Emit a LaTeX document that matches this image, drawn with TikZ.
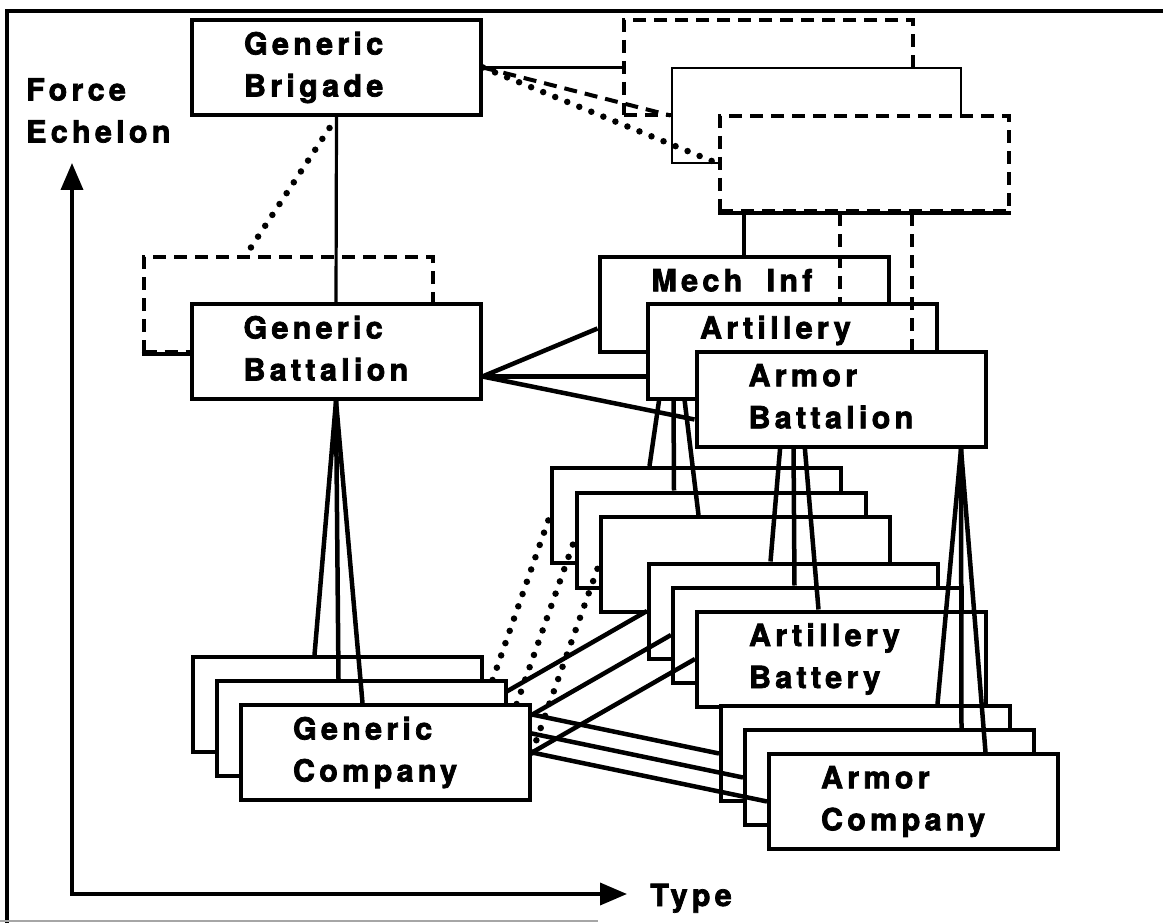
\documentclass[tikz,border=0pt]{standalone}
\usepackage{fontspec}
\setmainfont{TeX Gyre Heros}[LetterSpace=14,FakeBold=2.4]
\usepackage{tikz}
\usetikzlibrary{arrows.meta,positioning}
\pgfdeclarelayer{back}
\pgfdeclarelayer{mid}
\pgfsetlayers{back,mid,main}
\tikzset{>/.tip={Triangle[length=27pt,width=22pt]}}
\newcommand\boxfont{\fontsize{30.5}{42}\selectfont\bfseries}
\tikzset{
  unit/.style={draw,fill=white,line width=4pt,minimum height=95pt,
    text width=185pt,inner xsep=52pt,inner ysep=0pt,align=left,font=\boxfont,
    execute at end node={\vphantom{y}}},
  ghost/.style={unit,line width=4pt,dash pattern=on 13pt off 8pt},
  link/.style={line width=4.5pt},
  thinlink/.style={line width=3.2pt},
  dashlink/.style={line width=4pt,dash pattern=on 13pt off 8pt},
  dotlink/.style={line width=6.5pt,line cap=round,dash pattern=on 0pt off 13pt}
}

\begin{document}
\begin{tikzpicture}[x=1pt,y=-1pt,on grid]
\useasboundingbox (0,0) rectangle (1163,923);
% frame
\draw[line width=3.6pt] (7,923) -- (7,11) -- (1163,11);
\draw[line width=2pt,black!35] (0,921) -- (598,921);

% axes
\coordinate (ytip) at (72,163);
\coordinate (origin) at (72,894);
\coordinate (xtip) at (627,894);
\draw[line width=3.6pt,<->] (ytip) -- (origin) -- (xtip);
\node(echelon)[anchor=north west,align=left,inner sep=0pt,font=\boxfont] at (26,78) {Force\\Echelon};
\node(type)[anchor=base west,inner sep=0pt,font=\boxfont] at (650,906) {Type};

% unknown brigade types
\node(d1)[ghost] at (768.5,67.5) {};
\node(d2)[unit,line width=2.8pt,below right=48pt and 48pt of d1] {};
\node(d3)[ghost,below right=48pt and 48pt of d2] {};
\draw[thinlink] (d3.south west) -- (d3.south east);

% generic column
\node(brigade)[unit] at (336.5,67.5) {Generic\\Brigade};
\node(ghostbn)[ghost] at (288,304.5) {};
\draw[thinlink] (ghostbn.south west) -- (ghostbn.south east);
\node(genbn)[unit,below right=47pt and 48pt of ghostbn] {Generic\\Battalion};
\node(c1)[unit] at (337.5,704.5) {};
\node(c2)[unit,below right=24pt and 24pt of c1] {};
\node(c3)[unit,below right=24pt and 24pt of c2] {Generic\\Company};

% battalion types
\node(mechinf)[unit] at (744,304.5) {Mech\hspace{0.8em}Inf\\\mbox{}};
\node(artbn)[unit,below right=47pt and 48.5pt of mechinf] {Artillery\\\mbox{}};
\node(armbn)[unit,below right=48pt and 48.5pt of artbn] {Armor\\Battalion};

% company types
\begin{pgfonlayer}{back}
\node(m1)[unit] at (696.5,515.5) {};
\node(m2)[unit,below right=24.5pt and 24.5pt of m1] {};
\node(m3)[unit,below right=24.5pt and 24.5pt of m2] {};
\node(a1)[unit] at (793.5,611) {};
\node(a2)[unit,below right=24pt and 24pt of a1] {};
\node(a3)[unit,below right=24pt and 24pt of a2] {Artillery\\Battery};
\node(r1)[unit] at (865.5,753.5) {};
\node(r2)[unit,below right=24pt and 24pt of r1] {};
\node(r3)[unit,below right=24pt and 24pt of r2] {Armor\\Company};
\end{pgfonlayer}

\begin{pgfonlayer}{mid}
\coordinate (mifan) at ([xshift=-71pt]mechinf.center);
\coordinate (arfan) at ([xshift=120pt]armbn.south);
\draw[link]
  ([yshift=-25pt]genbn.east) edge ([yshift=-24pt]mechinf.west)
  ([yshift=-25pt]genbn.east) edge ([yshift=-25pt]artbn.west)
  ([yshift=-25pt]genbn.east) edge ([yshift=-20pt]armbn.west)
  (mifan) edge ([xshift=-47pt]m1.north)
  (mifan) edge ([xshift=-47pt]m2.north)
  (mifan) edge ([xshift=-47pt]m3.north)
  (artbn.north) edge ([xshift=-23pt]a1.north)
  (artbn.north) edge ([xshift=-23pt]a2.north)
  (artbn.north) edge ([xshift=-23pt]a3.north)
  (arfan) edge ([xshift=72pt]r1.north)
  (arfan) edge ([xshift=72pt]r2.north)
  (arfan) edge ([xshift=72pt]r3.north)
  (c1.east) edge (a1.west)
  (c2.east) edge (a2.west)
  (c3.east) edge (a3.west)
  (c1.east) edge (r1.west)
  (c2.east) edge (r2.west)
  (c3.east) edge (r3.west);
\draw[dotlink]
  (c1.east) edge (m1.west)
  (c2.east) edge (m2.west)
  (c3.east) edge (m3.west);
\end{pgfonlayer}

\draw[link]
  (genbn.south) edge ([xshift=-23pt]c1.north)
  (genbn.south) edge ([xshift=-23pt]c2.north)
  (genbn.south) edge ([xshift=-23pt]c3.north);
\draw[thinlink] (brigade.south) -- (genbn.north);
\draw[dotlink] ([xshift=-7pt,yshift=-11pt]brigade.south) -- ([xshift=-42pt]ghostbn.north);
\draw[thinlink] (brigade.east) -- (d1.west);
\draw[dashlink] (brigade.east) -- (d2.west);
\draw[dotlink] (brigade.east) -- (d3.west);

\coordinate (artdrop) at ([xshift=47pt]artbn.north);
\coordinate (armdrop) at ([xshift=71pt]armbn.north);
\draw[thinlink] (mechinf.north |- d3.south) -- (mechinf.north);
\draw[dashlink] (artdrop |- d3.south) -- (artdrop);
\draw[dashlink] (armdrop |- d3.south) -- (armdrop);
\end{tikzpicture}
\end{document}
